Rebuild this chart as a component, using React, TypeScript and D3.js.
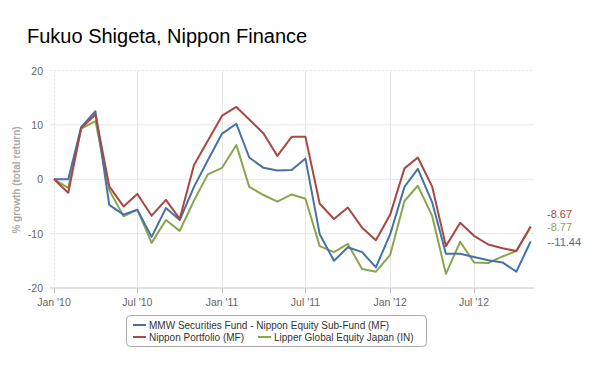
import React from "react";
import * as d3 from "d3";

const months: string[] = Array.from({ length: 35 }, (_, i) => {
  const y = 2010 + Math.floor(i / 12);
  const m = (i % 12) + 1;
  return `${y}-${String(m).padStart(2, "0")}-01`;
});

const mmwValues = [0, 0, 9.6, 12.5, -4.7, -6.5, -5.6, -10.6, -5.3, -7.5, -1.4, 3.5, 8.4, 10.2, 4.0, 2.1, 1.6, 1.7, 3.8, -10.1, -15.0, -12.5, -13.4, -16.2, -10.1, -1.4, 1.9, -4.2, -13.7, -13.7, -14.3, -14.9, -15.3, -17.0, -11.44];
const nipponValues = [0, -2.5, 9.4, 11.9, -1.3, -5.0, -2.7, -6.7, -3.8, -7.3, 2.6, 7.1, 11.7, 13.3, 11.0, 8.4, 4.3, 7.8, 7.8, -4.5, -7.3, -5.2, -8.9, -11.2, -6.5, 2.0, 4.0, -1.3, -12.3, -8.0, -10.4, -12.0, -12.7, -13.2, -8.67];
const lipperValues = [0, -1.6, 9.3, 10.7, -2.0, -6.8, -5.6, -11.7, -7.5, -9.5, -3.9, 0.9, 2.1, 6.3, -1.4, -2.9, -4.1, -2.8, -3.6, -12.3, -13.4, -11.9, -16.5, -17.0, -13.9, -4.0, -1.2, -6.7, -17.4, -11.5, -15.3, -15.4, -14.2, -13.2, -8.77];

const seriesNames = [
  "MMW Securities Fund - Nippon Equity Sub-Fund (MF)",
  "Nippon Portfolio (MF)",
  "Lipper Global Equity Japan (IN)",
];
const seriesColors = ["#4572A7", "#AA4643", "#89A54E"];
const endLabels = ["--11.44", "-8.67", "-8.77"];

const yTicks = [20, 10, 0, -10, -20];
const xTickDates = ["2010-01-01", "2010-07-01", "2011-01-01", "2011-07-01", "2012-01-01", "2012-07-01"];
const xTickLabels = ["Jan '10", "Jul '10", "Jan '11", "Jul '11", "Jan '12", "Jul '12"];

const title = "Fukuo Shigeta, Nippon Finance";
const yTitle = "% growth (total return)";

const font = "'Liberation Sans', Arial, sans-serif";

export default function App() {
  const parse = d3.utcParse("%Y-%m-%d");
  const dates = months.map((m) => parse(m) as Date);
  const x = d3
    .scaleUtc()
    .domain([parse("2010-01-01") as Date, parse("2012-07-01") as Date])
    .range([54, 474]);
  const y = d3.scaleLinear().domain([-20, 20]).range([288, 70.5]);

  const plotLeft = 50;
  const plotRight = 534;

  const seriesData = [mmwValues, nipponValues, lipperValues];
  const line = d3
    .line<number>()
    .x((_, i) => x(dates[i]))
    .y((d) => y(d));

  const endY = [242, 214, 227];

  return (
    <svg
      width={600}
      height={375}
      style={{ position: "absolute", left: 0, top: 0, background: "#fff" }}
      fontFamily={font}
    >
      <text x={27} y={43} fontSize={20} fill="#000">
        {title}
      </text>

      {/* horizontal grid */}
      {yTicks.map((t, i) => (
        <line
          key={"h" + t}
          x1={plotLeft}
          x2={plotRight}
          y1={y(t)}
          y2={y(t)}
          stroke={t === -20 ? "#c0c0c0" : "#e6e6e6"}
          strokeWidth={1}
          strokeDasharray={i === 0 ? "2,2" : undefined}
        />
      ))}
      {/* vertical grid */}
      {xTickDates.map((d, i) => {
        const xx = Math.round(x(parse(d) as Date)) + 0.5;
        return (
          <g key={"v" + d}>
            <line
              x1={xx}
              x2={xx}
              y1={70.5}
              y2={288}
              stroke="#e6e6e6"
              strokeDasharray={i === 0 ? "2,2" : undefined}
            />
            <line x1={xx} x2={xx} y1={288} y2={293} stroke="#c0c0c0" />
          </g>
        );
      })}

      {/* y tick labels */}
      {yTicks.map((t) => (
        <text
          key={"yl" + t}
          x={43}
          y={y(t) + 4}
          textAnchor="end"
          fontSize={10.5}
          fill="#666"
        >
          {t}
        </text>
      ))}

      {/* x tick labels */}
      {xTickDates.map((d, i) => (
        <text
          key={"xl" + d}
          x={x(parse(d) as Date)}
          y={306}
          textAnchor="middle"
          fontSize={10.5}
          fill="#666"
        >
          {xTickLabels[i]}
        </text>
      ))}

      <text
        transform={`translate(20,180) rotate(-90)`}
        textAnchor="middle"
        fontSize={10}
        fontWeight="bold"
        fill="#aaa"
      >
        {yTitle}
      </text>

      {/* lines */}
      {[2, 0, 1].map((si) => (
        <path
          key={"s" + si}
          d={line(seriesData[si]) || ""}
          fill="none"
          stroke={seriesColors[si]}
          strokeWidth={2}
          strokeLinejoin="round"
        />
      ))}

      {/* end labels */}
      {endLabels.map((l, i) => (
        <text key={"el" + i} x={547} y={endY[i] + 4} fontSize={11} fill={seriesColors[i]}>
          {l}
        </text>
      ))}

      {/* legend */}
      <rect x={126.5} y={315.5} width={300} height={31} rx={4} fill="#fff" stroke="#aaa" />
      <line x1={133} x2={146} y1={325} y2={325} stroke={seriesColors[0]} strokeWidth={2} />
      <text x={149} y={329} fontSize={10} fill="#333">
        {seriesNames[0]}
      </text>
      <line x1={133} x2={146} y1={337} y2={337} stroke={seriesColors[1]} strokeWidth={2} />
      <text x={149} y={341} fontSize={10} fill="#333">
        {seriesNames[1]}
      </text>
      <line x1={258} x2={271} y1={337} y2={337} stroke={seriesColors[2]} strokeWidth={2} />
      <text x={274} y={341} fontSize={10} fill="#333">
        {seriesNames[2]}
      </text>
    </svg>
  );
}
